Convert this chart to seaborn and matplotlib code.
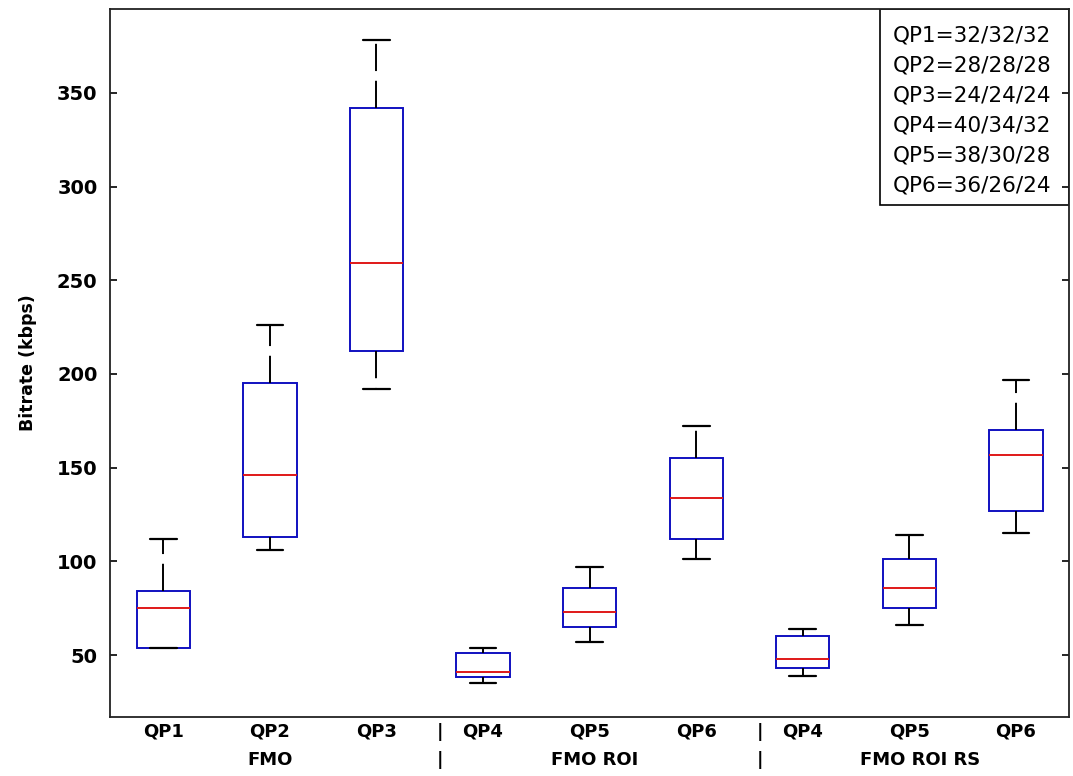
import numpy as np
import pandas as pd
import matplotlib
matplotlib.use("Agg")
import matplotlib.pyplot as plt
from matplotlib.patches import Rectangle
import seaborn as sns

# five-number summaries: min, Q1, median, Q3, max (kbps)
box_ids = ["b1", "b2", "b3", "b4", "b5", "b6", "b7", "b8", "b9"]
tick_labels = ["QP1", "QP2", "QP3", "QP4", "QP5", "QP6", "QP4", "QP5", "QP6"]
group_names = ["FMO", "FMO ROI", "FMO ROI RS"]
group_centers = [1.0, 4.05, 7.1]
separators = [2.6, 5.6]

fmo_qp1 = [54, 54, 75, 84, 112]
fmo_qp2 = [106, 113, 146, 195, 226]
fmo_qp3 = [192, 212, 259, 342, 378]
roi_qp4 = [35, 38, 41, 51, 54]
roi_qp5 = [57, 65, 73, 86, 97]
roi_qp6 = [101, 112, 134, 155, 172]
rs_qp4 = [39, 43, 48, 60, 64]
rs_qp5 = [66, 75, 86, 101, 114]
rs_qp6 = [115, 127, 157, 170, 197]

legend_lines = ["QP1=32/32/32", "QP2=28/28/28", "QP3=24/24/24",
                "QP4=40/34/32", "QP5=38/30/28", "QP6=36/26/24"]

series = [fmo_qp1, fmo_qp2, fmo_qp3, roi_qp4, roi_qp5, roi_qp6,
          rs_qp4, rs_qp5, rs_qp6]
df = pd.DataFrame({
    "box": np.repeat(box_ids, 5),
    "bitrate": np.concatenate(series),
})

sns.set_style("ticks")
plt.rcParams.update({"text.color": "black", "axes.labelcolor": "black",
                     "xtick.color": "black", "ytick.color": "black"})
fig = plt.figure(figsize=(10.73, 7.76), dpi=100)
ax = fig.add_axes([0.1025, 0.076, 0.894, 0.9124])

blue = "#1010c0"
sns.boxplot(ax=ax, data=df, x="box", y="bitrate", order=box_ids,
            whis=(0, 100), width=0.5, showfliers=False,
            boxprops=dict(facecolor="white", edgecolor=blue, linewidth=1.4),
            medianprops=dict(color="#e01818", linewidth=1.4),
            whiskerprops=dict(color="black", linewidth=1.4, linestyle=(0, (14, 5))),
            capprops=dict(color="black", linewidth=1.6))

ax.set_xlim(-0.5, 8.5)
ax.set_ylim(16.9, 394.8)
ax.set_yticks([50, 100, 150, 200, 250, 300, 350])
ax.set_xticks(range(9))
ax.set_xticklabels(tick_labels, fontsize=13, fontweight="bold")
for lab in ax.get_yticklabels():
    lab.set_fontsize(14)
    lab.set_fontweight("bold")
ax.tick_params(axis="y", direction="in", right=True, length=5, width=1.2, pad=9)
ax.tick_params(axis="x", length=0, pad=4)
ax.set_xlabel("")
ax.set_ylabel("Bitrate (kbps)", fontsize=12.5, fontweight="bold", labelpad=14)
for s in ax.spines.values():
    s.set_visible(True)
    s.set_linewidth(1.3)
    s.set_color("#222222")

# second row of x labels and the group separators
trans = ax.get_xaxis_transform()
for name, xc in zip(group_names, group_centers):
    ax.text(xc, -0.048, name, transform=trans, ha="center", va="top",
            fontsize=13, fontweight="bold")
for xs in separators:
    ax.text(xs, -0.008, "|", transform=trans, ha="center", va="top",
            fontsize=13, fontweight="bold")
    ax.text(xs, -0.048, "|", transform=trans, ha="center", va="top",
            fontsize=13, fontweight="bold")

# text box with the QP definitions, in the top right corner (below the ticks)
ax.add_patch(Rectangle((0.803, 0.723), 0.197, 0.277, transform=ax.transAxes,
                       facecolor="white", edgecolor="black", linewidth=1.2,
                       zorder=0.2))
for i, line in enumerate(legend_lines):
    ax.text(0.8155, 0.963 - i * 0.0425, line, transform=ax.transAxes,
            ha="left", va="center", fontsize=15.5, zorder=0.3)

fig.savefig("out.png", dpi=100)
